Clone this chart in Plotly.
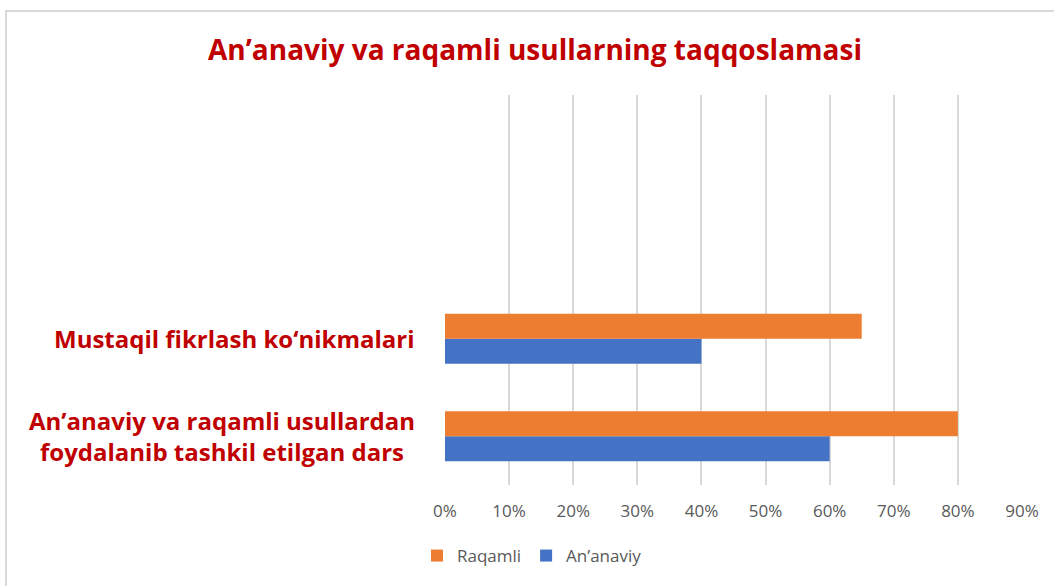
import plotly.graph_objects as go

categories = [
    "An’anaviy va raqamli usullardan<br>foydalanib tashkil etilgan dars",
    "Mustaqil fikrlash ko‘nikmalari",
]
ananaviy = [0.60, 0.40]
raqamli = [0.80, 0.65]
x_ticks = [0, 0.1, 0.2, 0.3, 0.4, 0.5, 0.6, 0.7, 0.8, 0.9]
x_tick_labels = ["0%", "10%", "20%", "30%", "40%", "50%", "60%", "70%", "80%", "90%"]
title_text = "An’anaviy va raqamli usullarning taqqoslamasi"

RED = "#C00000"
FONT = "Open Sans"

W, H = 1054, 586
L, T = 445, 95
R = W - 1022
B = H - 485
PW, PH = W - L - R, H - T - B

fig = go.Figure()
fig.add_trace(go.Bar(
    y=categories, x=ananaviy, orientation="h", name="An’anaviy",
    marker=dict(color="#4472C4", line=dict(width=0)),
))
fig.add_trace(go.Bar(
    y=categories, x=raqamli, orientation="h", name="Raqamli",
    marker=dict(color="#ED7D31", line=dict(width=0)),
))

for c in categories:
    fig.add_annotation(
        x=0, xref="paper", y=c, yref="y", text=c, showarrow=False,
        xanchor="right", yanchor="middle", xshift=-28, align="center",
        font=dict(family=FONT, size=24, color=RED, weight="bold"),
    )

# chart border (light gray)
fig.add_shape(type="rect", xref="paper", yref="paper",
              x0=(6 - L) / PW, x1=1.2, y0=-0.5, y1=1 + (T - 11) / PH,
              line=dict(color="#d9d9d9", width=2), fillcolor="rgba(0,0,0,0)", layer="below")

fig.update_layout(
    width=W, height=H,
    margin=dict(l=L, r=R, t=T, b=B),
    paper_bgcolor="white", plot_bgcolor="white",
    barmode="group", bargap=0.487, bargroupgap=0,
    title=dict(text=title_text, x=535 / W, xanchor="center", xref="container",
               y=1 - 50 / H, yanchor="middle", yref="container",
               font=dict(family=FONT, size=28, color=RED, weight="bold")),
    xaxis=dict(range=[0, 0.9], tickvals=x_ticks, ticktext=x_tick_labels,
               showgrid=True, gridcolor="#d9d9d9", gridwidth=2, zeroline=False,
               showline=False, ticks="", ticklabelstandoff=14,
               tickfont=dict(family=FONT, size=17, color="#595959")),
    yaxis=dict(type="category", range=[-0.5, 3.5], showticklabels=False,
               showgrid=False, zeroline=False, showline=False, ticks=""),
    legend=dict(orientation="h", traceorder="reversed",
                x=417 / W, xref="container", xanchor="left",
                y=(H - 556) / H, yref="container", yanchor="middle",
                font=dict(family=FONT, size=17, color="#595959")),
    showlegend=True,
)

fig.write_html("out.html", config={"displayModeBar": False},
               post_script="document.body.style.margin='0';document.body.style.overflow='hidden';")
